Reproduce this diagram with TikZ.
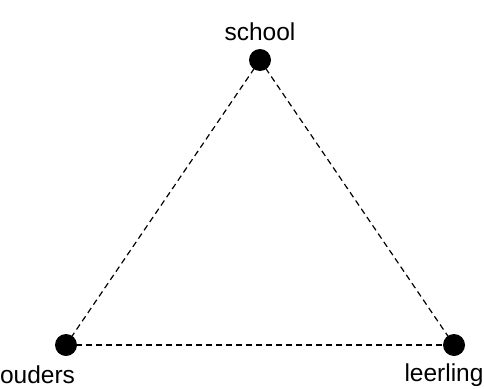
\documentclass[tikz,border=0pt]{standalone}
\usepackage{fontspec}
\setmainfont{Liberation Sans}
\usetikzlibrary{positioning, backgrounds}
\tikzset{
  dotnode/.style={circle, fill=black, inner sep=0pt, minimum size=22pt},
  namelabel/.style={font=\fontsize{24.5}{28}\selectfont, inner sep=0pt},
  tieline/.style={dashed, dash pattern=on 6pt off 4pt, line width=1.2pt},
}
\begin{document}
\begin{tikzpicture}[x=1pt, y=-1pt]
  \useasboundingbox (0,0) rectangle (484,388);

  % Corners
  \node[dotnode] (school) at (260,60) {};
  \node[dotnode] (ouders) at (66,345) {};
  \node[dotnode] (leerling) at (454,345) {};

  % Names
  \node[namelabel] (schoollbl) at (260,32) {school};
  \node[namelabel] (ouderslbl) at (37.5,375) {ouders};
  \node[namelabel] (leerlinglbl) at (444,375) {leerling};

  % Ties
  \begin{scope}[on background layer]
    \draw[tieline] (school.center) -- (ouders.center);
    \draw[tieline] (school.center) -- (leerling.center);
    \draw[tieline] (ouders.center) -- (leerling.center);
  \end{scope}
\end{tikzpicture}
\end{document}
